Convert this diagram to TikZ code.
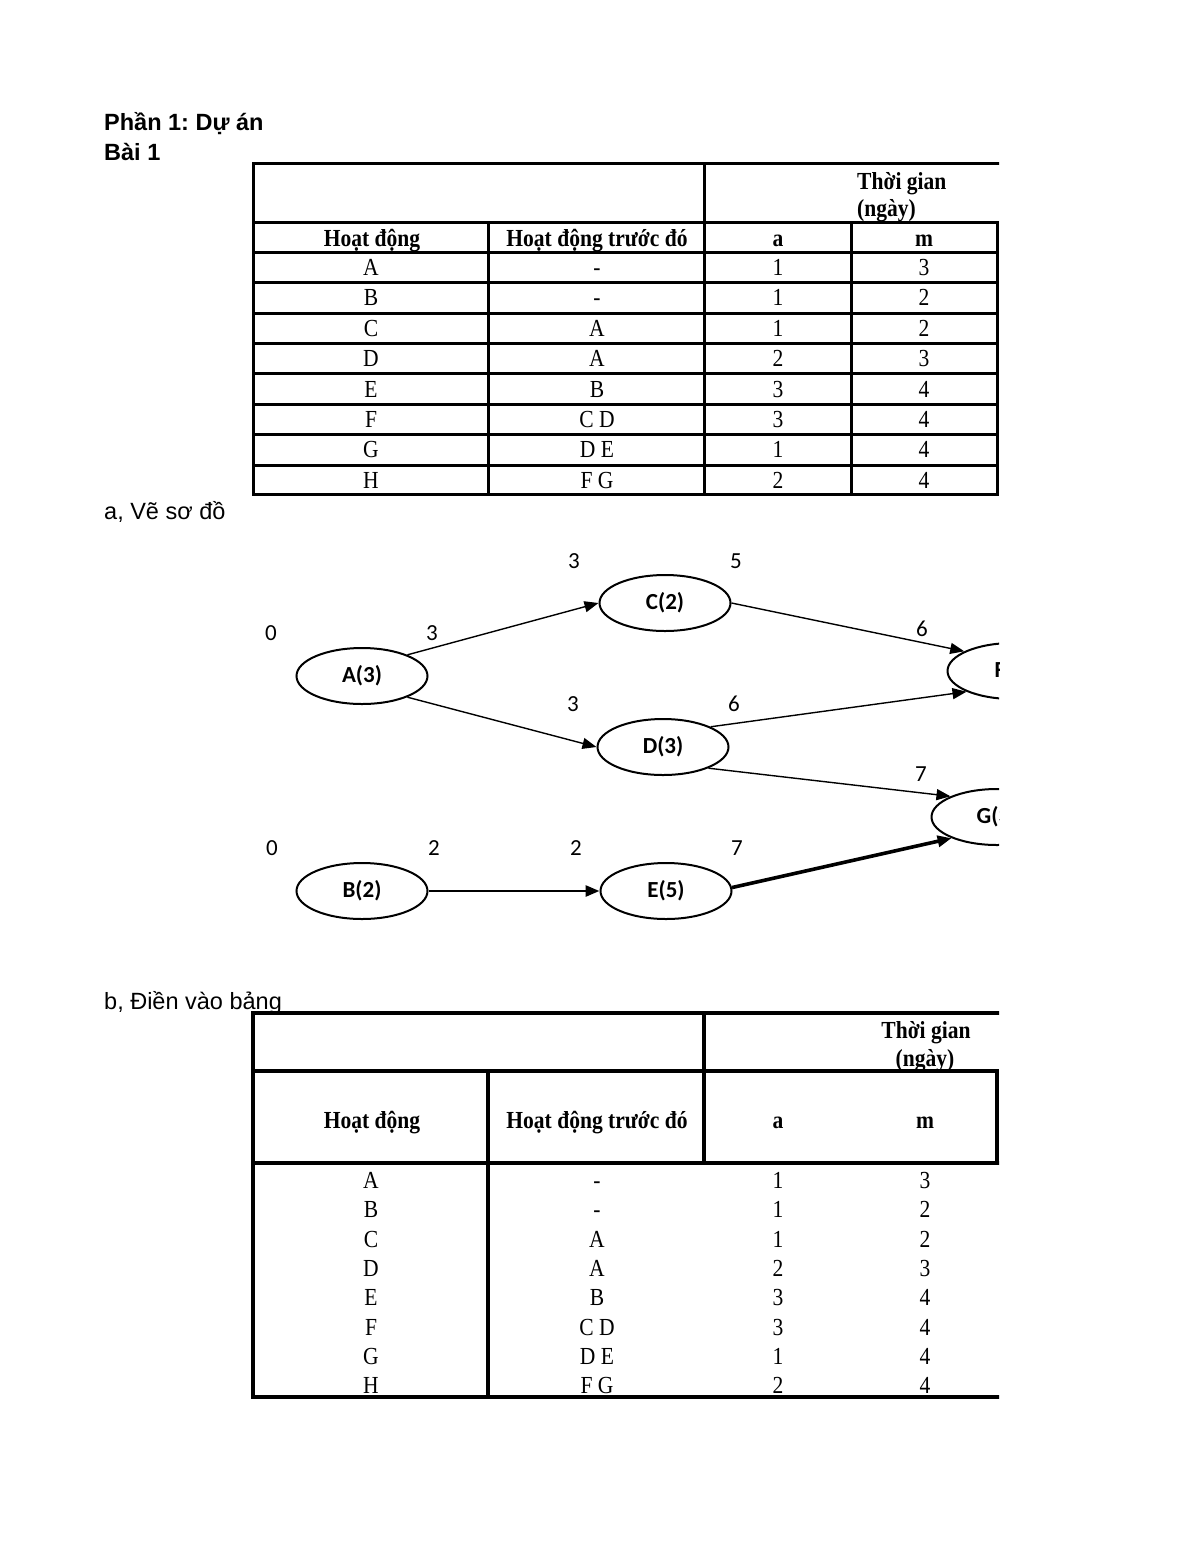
\documentclass[tikz,border=0pt]{standalone}
\usepackage{fontspec}
\setmainfont{Liberation Serif}
\newfontfamily\tnr[FakeStretch=0.88]{Liberation Serif}
\newfontfamily\arialf{Liberation Sans}
\newfontfamily\calib{Carlito}
\usetikzlibrary{arrows.meta,shapes.geometric}
\frenchspacing
\begin{document}
\begin{tikzpicture}[x=1pt,y=-1pt,
  heading/.style={font=\arialf\bfseries\fontsize{23.5}{28}\selectfont, anchor=base west, inner sep=0},
  plaintxt/.style={font=\arialf\fontsize{23.5}{28}\selectfont, anchor=base west, inner sep=0},
  cell/.style={font=\tnr\fontsize{24.5}{26}\selectfont, inner sep=0, anchor=base},
  hcell/.style={font=\tnr\bfseries\fontsize{24.5}{26}\selectfont, inner sep=0, anchor=base},
  grid/.style={line width=3pt, line cap=rect},
  gridb/.style={line width=3.5pt, line cap=rect},
  act/.style={ellipse, draw, line width=2pt, minimum width=131pt, minimum height=56pt,
    font=\calib\bfseries\fontsize{23}{26}\selectfont, inner sep=0},
  num/.style={font=\calib\fontsize{23}{26}\selectfont, inner sep=0},
  arr/.style={-{Triangle[length=14pt,width=11pt]}, line width=1.4pt}]
\useasboundingbox (0,0) rectangle (1200,1553);
\fill[white] (0,0) rectangle (1200,1553);

% headings
\node[heading] (title) at (104,130) {Phần 1: Dự án};
\node[heading] (bai) at (104,160) {Bài 1};
\node[plaintxt] (parta) at (104,519) {a, Vẽ sơ đồ};
\node[plaintxt] (partb) at (104,1009) {b, Điền vào bảng};

\begin{scope}
\clip (0,0) rectangle (999,1553);

% ---------- Table 1 ----------
\draw[grid] (253,163) -- (1002,163);
\foreach \yy in {222,252,282,313,343,373,404,434,465,494}
  \draw[grid] (253,\yy) -- (997,\yy);
\draw[grid] (253,163) -- (253,494);
\draw[grid] (704,163) -- (704,494);
\draw[grid] (488,222) -- (488,494);
\draw[grid] (851,222) -- (851,494);
\draw[grid] (997,222) -- (997,494);

\node[hcell, anchor=base west] (t1tg) at (857,189) {Thời gian};
\node[hcell, anchor=base west] (t1ng) at (857,216) {(ngày)};
\node[hcell] (t1h1) at (372,246) {Hoạt động};
\node[hcell] (t1h2) at (597,246) {Hoạt động trước đó};
\node[hcell] (t1h3) at (778,246) {a};
\node[hcell] (t1h4) at (924,246) {m};

\foreach \p/\q/\ra/\rb [count=\i from 0] in {A/-/1/3,B/-/1/2,C/A/1/2,D/A/2/3,E/B/3/4,F/C D/3/4,G/D E/1/4,H/F G/2/4}{
  \pgfmathsetmacro\yy{275.5+30.4*\i}
  \node[cell] (ta\i) at (371,\yy) {\p};
  \node[cell] (tb\i) at (597,\yy) {\q};
  \node[cell] (tc\i) at (778,\yy) {\ra};
  \node[cell] (td\i) at (924,\yy) {\rb};
}

% ---------- Graph ----------
\node[act] (A) at (362,676) {A(3)};
\node[act] (C) at (665,603) {C(2)};
\node[act] (D) at (663,747) {D(3)};
\node[act] (B) at (362,891) {B(2)};
\node[act] (E) at (666,891) {E(5)};
\node[act] (F) at (1013,671) {F(4)};
\node[act] (G) at (997,817) {G(3)};

\draw[arr] (A.25) -- (C.west);
\draw[arr] (A.-25) -- (D.west);
\draw[arr] (C.east) -- (F.158);
\draw[arr] (D.23) -- (F.204);
\draw[arr] (D.-25) -- (G.156);
\draw[arr, line width=2.8pt] (B.east) -- (E.west);
\draw[arr, line width=3.6pt] (E.3) -- (G.205);

\node[num] (nA0) at (271,633) {0};
\node[num] (nA1) at (432,633) {3};
\node[num] (nC0) at (574,561) {3};
\node[num] (nC1) at (736,561) {5};
\node[num] (nD0) at (573,704) {3};
\node[num] (nD1) at (734,704) {6};
\node[num] (nF0) at (922,629) {6};
\node[num] (nG0) at (921,774) {7};
\node[num] (nB0) at (272,848) {0};
\node[num] (nB1) at (434,848) {2};
\node[num] (nE0) at (576,848) {2};
\node[num] (nE1) at (737,848) {7};

% ---------- Table 2 ----------
\draw[gridb] (253,1013) -- (1002,1013);
\draw[gridb] (253,1071) -- (997,1071);
\draw[gridb] (253,1163) -- (1002,1163);
\draw[gridb] (253,1397) -- (1002,1397);
\draw[gridb] (253,1013) -- (253,1397);
\draw[gridb] (704,1013) -- (704,1163);
\draw[gridb] (488,1071) -- (488,1397);
\draw[gridb] (997,1071) -- (997,1163);

\node[hcell] (t2tg) at (926,1038) {Thời gian};
\node[hcell] (t2ng) at (925,1066) {(ngày)};
\node[hcell] (t2h1) at (372,1128) {Hoạt động};
\node[hcell] (t2h2) at (597,1128) {Hoạt động trước đó};
\node[hcell] (t2h3) at (778,1128) {a};
\node[hcell] (t2h4) at (925,1128) {m};

\foreach \p/\q/\ra/\rb [count=\i from 0] in {A/-/1/3,B/-/1/2,C/A/1/2,D/A/2/3,E/B/3/4,F/C D/3/4,G/D E/1/4,H/F G/2/4}{
  \pgfmathsetmacro\yy{1188.5+29.3*\i}
  \node[cell] (sa\i) at (371,\yy) {\p};
  \node[cell] (sb\i) at (597,\yy) {\q};
  \node[cell] (sc\i) at (778,\yy) {\ra};
  \node[cell] (sd\i) at (925,\yy) {\rb};
}
\end{scope}
\end{tikzpicture}
\end{document}
